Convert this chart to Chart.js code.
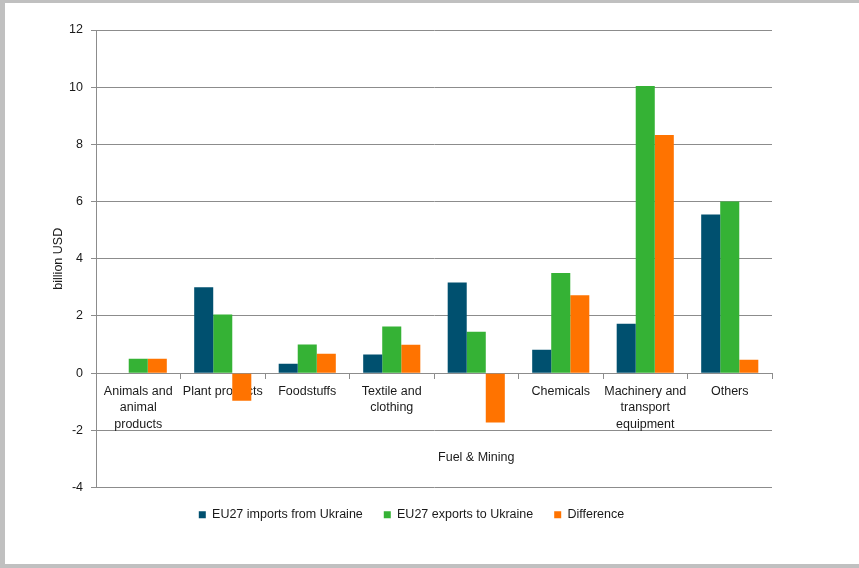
<!DOCTYPE html>
<html>
<head>
<meta charset="utf-8">
<script src="https://cdn.jsdelivr.net/npm/chart.js@4.4.1/dist/chart.umd.min.js"></script>
<style>
  html, body { margin: 0; padding: 0; background: #fff; }
  #frame { width: 854px; height: 561px; border-top: 3px solid #c0c0c0; border-left: 5px solid #c0c0c0; border-bottom: 4px solid #c0c0c0; }
  canvas { display: block; }
</style>
</head>
<body>
<div id="frame"><canvas id="chart" width="854" height="561"></canvas></div>
<script>
const categories = [
  ["Animals and", "animal", "products"],
  "Plant products",
  "Foodstuffs",
  ["Textile and", "clothing"],
  ["", "", "", "", "Fuel & Mining"],
  "Chemicals",
  ["Machinery and", "transport", "equipment"],
  "Others"
];
const importsFromUkraine = [0, 3.0, 0.33, 0.65, 3.17, 0.82, 1.73, 5.55];
const exportsToUkraine = [0.5, 2.05, 1.0, 1.63, 1.45, 3.5, 10.04, 6.0];
const difference = [0.5, -0.97, 0.68, 0.99, -1.73, 2.72, 8.33, 0.47];
const yMin = -4;
const yMax = 12;
const yStep = 2;

const FONT = "'Liberation Sans', Arial, sans-serif";
const GRID = "#8c8c8c";
const TEXT = "#1a1a1a";

new Chart(document.getElementById("chart"), {
  type: "bar",
  data: {
    labels: categories,
    datasets: [
      { label: "EU27 imports from Ukraine", data: importsFromUkraine, backgroundColor: "#00506f" },
      { label: "EU27 exports to Ukraine", data: exportsToUkraine, backgroundColor: "#35b235" },
      { label: "Difference", data: difference, backgroundColor: "#ff7300" }
    ]
  },
  options: {
    responsive: false,
    animation: false,
    layout: { padding: { left: 46, top: 27, right: 87, bottom: 33 } },
    datasets: { bar: { barPercentage: 1, categoryPercentage: 0.676 } },
    plugins: {
      tooltip: { enabled: false },
      legend: {
        position: "bottom",
        labels: { boxWidth: 7, boxHeight: 7, padding: 21, color: TEXT, font: { family: FONT, size: 12.5 } }
      }
    },
    scales: {
      x: {
        position: { y: 0 },
        grid: { offset: true, drawOnChartArea: false, color: GRID, tickLength: 5 },
        border: { color: GRID },
        ticks: { autoSkip: false, maxRotation: 0, padding: 5, color: TEXT, font: { family: FONT, size: 12.5, lineHeight: "16.5px" } }
      },
      y: {
        min: yMin,
        max: yMax,
        afterFit: (scale) => { scale.width = 45; },
        grid: { color: GRID, tickLength: 5 },
        border: { color: GRID },
        ticks: { stepSize: yStep, padding: 8, color: TEXT, font: { family: FONT, size: 12.5 } },
        title: { display: true, text: "billion USD", color: TEXT, padding: 0, font: { family: FONT, size: 12.5 } }
      }
    }
  }
});
</script>
</body>
</html>
